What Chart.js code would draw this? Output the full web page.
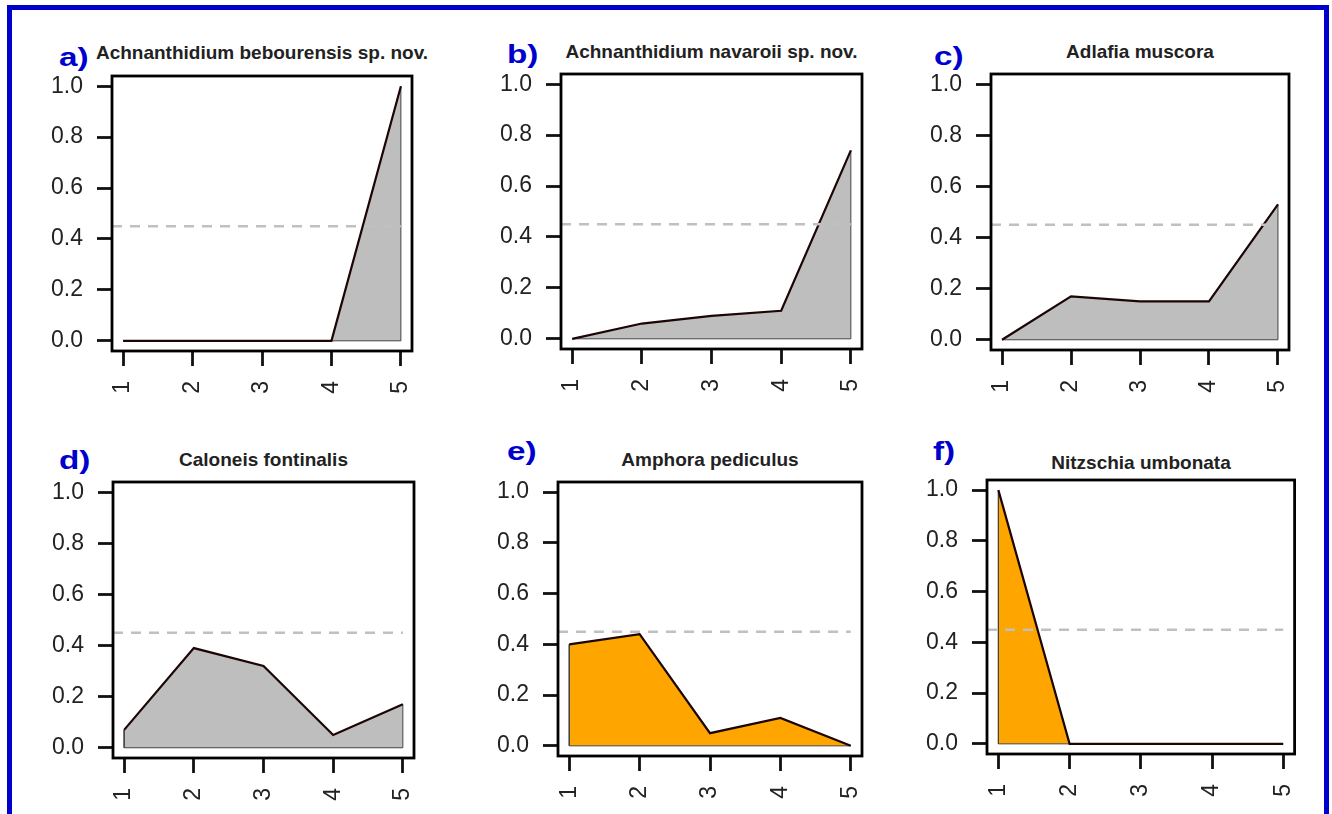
<!DOCTYPE html>
<html>
<head>
  <title>Species response curves</title>
  <script src="https://cdn.jsdelivr.net/npm/chart.js"></script>
  <style>
    body {
      margin: 0;
      background: #fff;
      width: 1332px;
      height: 814px;
      overflow: hidden;
      position: relative;
      font-family: 'Liberation Sans', Arial, sans-serif;
    }

    #frame {
      position: absolute;
      left: 7px;
      top: 5px;
      width: 1322px;
      height: 900px;
      box-sizing: border-box;
      border: 5px solid #0000cc;
      border-bottom: none;
    }

    canvas {
      position: absolute;
    }

    .title {
      position: absolute;
      font: bold 19px 'Liberation Sans', Arial, sans-serif;
      color: #222;
      white-space: nowrap;
      transform: translate(-50%, -50%);
    }

    .letter {
      position: absolute;
      font: bold 26px 'Liberation Sans', Arial, sans-serif;
      color: #0000cc;
      transform-origin: left center;
      transform: translateY(-50%) scaleX(1.28);
    }
  </style>
</head>
<body>
  <div id="frame"></div>

  <script>
    // sites along the gradient and the axis ticks
    const positions = [1, 2, 3, 4, 5];
    const yTickValues = [0, 0.2, 0.4, 0.6, 0.8, 1.0];
    const threshold = 0.45;

    const panelLetters = ['a)', 'b)', 'c)', 'd)', 'e)', 'f)'];
    const speciesNames = [
      'Achnanthidium bebourensis sp. nov.',
      'Achnanthidium navaroii sp. nov.',
      'Adlafia muscora',
      'Caloneis fontinalis',
      'Amphora pediculus',
      'Nitzschia umbonata'
    ];

    // values
    const bebourensis = [0, 0, 0, 0, 1.0];
    const navaroii = [0, 0.06, 0.09, 0.11, 0.74];
    const muscora = [0, 0.17, 0.15, 0.15, 0.53];
    const fontinalis = [0.07, 0.39, 0.32, 0.05, 0.17];
    const pediculus = [0.40, 0.44, 0.05, 0.11, 0];
    const umbonata = [1.0, 0, 0, 0, 0];

    // where each plot box sits on the page: [left, top, right, bottom]
    const panels = [
      { values: bebourensis, box: [112, 76, 412, 351], titleY: 53, letter: [59, 57], fill: '#bebebe' },
      { values: navaroii, box: [561, 74, 862, 349], titleY: 52, letter: [507, 54], fill: '#bebebe' },
      { values: muscora, box: [991, 74, 1289, 350], titleY: 52, letter: [934, 56], fill: '#bebebe' },
      { values: fontinalis, box: [113, 482, 414, 758], titleY: 460, letter: [59, 460], fill: '#bebebe' },
      { values: pediculus, box: [558, 482, 862, 756], titleY: 460, letter: [507, 451], fill: '#ffa500' },
      { values: umbonata, box: [987, 480, 1295, 754], titleY: 463, letter: [933, 451], fill: '#ffa500' }
    ];

    const tickFont = { family: "'Liberation Sans', Arial, sans-serif", size: 23 };
    const padL = 80, padB = 70;

    // box around the plot and the dashed 0.45 line
    const frameAndCutoff = {
      id: 'frameAndCutoff',
      afterDatasetsDraw(chart) {
        const ctx = chart.ctx;
        const y = chart.scales.y.getPixelForValue(threshold);
        ctx.save();
        ctx.strokeStyle = '#c0c0c0';
        ctx.lineWidth = 2.5;
        ctx.setLineDash([10, 8]);
        ctx.beginPath();
        ctx.moveTo(chart.chartArea.left, y);
        ctx.lineTo(chart.scales.x.getPixelForValue(positions[positions.length - 1]), y);
        ctx.stroke();
        ctx.restore();
      },
      afterDraw(chart) {
        const a = chart.chartArea;
        const ctx = chart.ctx;
        ctx.save();
        ctx.strokeStyle = '#000';
        ctx.lineWidth = 2.8;
        ctx.strokeRect(a.left, a.top, a.right - a.left, a.bottom - a.top);
        ctx.restore();
      }
    };

    function drawChart(p, padT, padR) {
      const [l, t, r, b] = p.box;
      const canvas = document.createElement('canvas');
      canvas.width = r - l + padL + padR;
      canvas.height = b - t + padT + padB;
      canvas.style.left = (l - padL) + 'px';
      canvas.style.top = (t - padT) + 'px';
      document.body.appendChild(canvas);

      const first = positions[0];
      const last = positions[positions.length - 1];
      const tickGrid = { drawOnChartArea: false, drawTicks: true, tickLength: 15, tickWidth: 2.8, tickColor: '#111' };

      return new Chart(canvas, {
        type: 'line',
        data: {
          datasets: [
            {
              data: positions.map((x, k) => ({ x: x, y: p.values[k] })),
              borderColor: '#1c0505',
              borderWidth: 2.2,
              backgroundColor: p.fill,
              fill: 'origin',
              pointRadius: 0,
              tension: 0,
              order: 0
            },
            {
              // thin edges of the shaded polygon
              data: [
                { x: first, y: p.values[0] },
                { x: first, y: 0 },
                { x: last, y: 0 },
                { x: last, y: p.values[p.values.length - 1] }
              ],
              borderColor: '#444',
              borderWidth: 1,
              fill: false,
              pointRadius: 0,
              tension: 0,
              order: 1
            }
          ]
        },
        options: {
          responsive: false,
          animation: false,
          events: [],
          layout: { padding: { left: 0, top: padT, right: padR, bottom: 0 } },
          plugins: {
            legend: { display: false },
            tooltip: { enabled: false },
            filler: { drawTime: 'beforeDatasetsDraw' }
          },
          scales: {
            x: {
              type: 'linear',
              min: 0.84,
              max: 5.16,
              afterBuildTicks: s => { s.ticks = positions.map(v => ({ value: v })); },
              afterFit: s => { s.height = padB; },
              border: { display: false },
              grid: tickGrid,
              ticks: {
                minRotation: 90,
                maxRotation: 90,
                autoSkip: false,
                padding: 15,
                color: '#222',
                font: tickFont,
                callback: v => String(v)
              }
            },
            y: {
              min: -0.04,
              max: 1.04,
              afterBuildTicks: s => { s.ticks = yTickValues.map(v => ({ value: v })); },
              afterFit: s => { s.width = padL; },
              border: { display: false },
              grid: tickGrid,
              ticks: {
                padding: 14,
                color: '#222',
                font: tickFont,
                callback: v => v.toFixed(1)
              }
            }
          }
        },
        plugins: [frameAndCutoff]
      });
    }

    function makePanel(p, i) {
      const [l, t, r, b] = p.box;

      const title = document.createElement('div');
      title.className = 'title';
      title.textContent = speciesNames[i];
      title.style.left = ((l + r) / 2) + 'px';
      title.style.top = p.titleY + 'px';
      document.body.appendChild(title);

      const letter = document.createElement('div');
      letter.className = 'letter';
      letter.textContent = panelLetters[i];
      letter.style.left = p.letter[0] + 'px';
      letter.style.top = p.letter[1] + 'px';
      document.body.appendChild(letter);

      // the library may keep extra room for edge labels; redo once so the box lands where wanted
      let padT = 20, padR = 20;
      let chart = drawChart(p, padT, padR);
      const a = chart.chartArea;
      const extraTop = Math.round(a.top - padT);
      const extraRight = Math.round(chart.width - a.right - padR);
      if (extraTop !== 0 || extraRight !== 0) {
        const canvas = chart.canvas;
        chart.destroy();
        canvas.remove();
        drawChart(p, padT + extraTop, padR + extraRight);
      }
    }

    panels.forEach(makePanel);
  </script>
</body>
</html>
